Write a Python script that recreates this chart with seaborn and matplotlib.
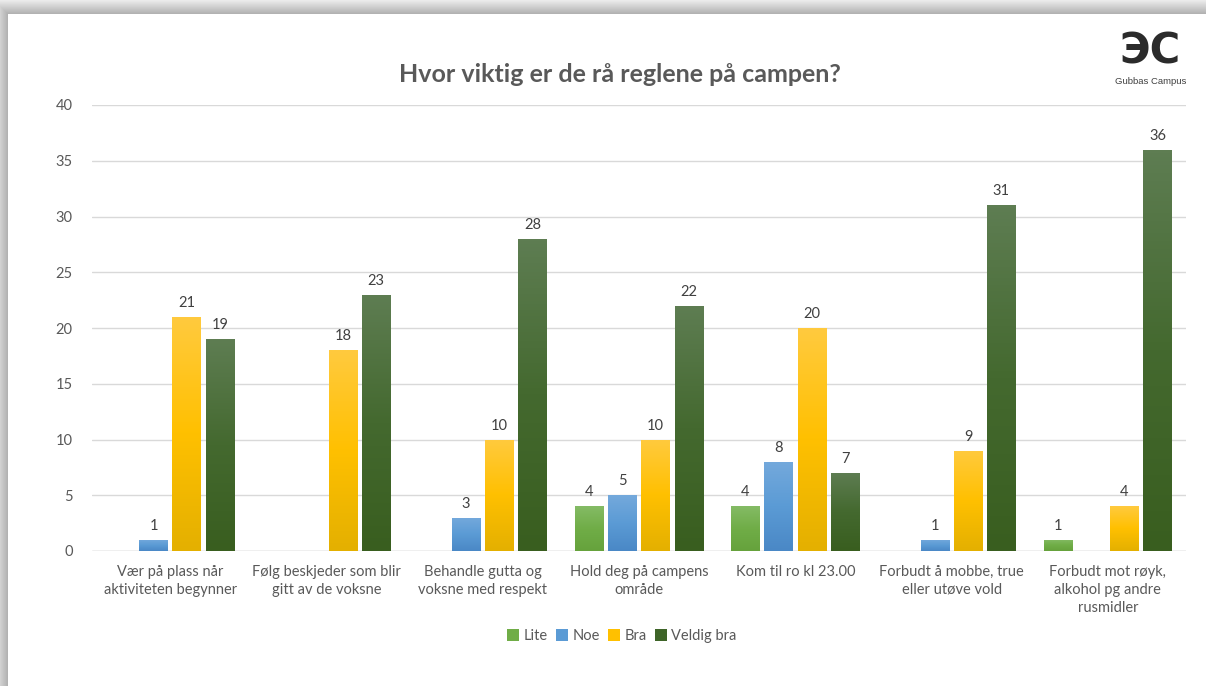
import matplotlib
matplotlib.use("Agg")
import matplotlib.pyplot as plt
import matplotlib.colors as mcolors
import seaborn as sns
import numpy as np
import pandas as pd

# ---------------------------------------------------------------
# data
categories = [
    "Vær på plass når\naktiviteten begynner",
    "Følg beskjeder som blir\ngitt av de voksne",
    "Behandle gutta og\nvoksne med respekt",
    "Hold deg på campens\nområde",
    "Kom til ro kl 23.00",
    "Forbudt å mobbe, true\neller utøve vold",
    "Forbudt mot røyk,\nalkohol pg andre\nrusmidler",
]
series = ["Lite", "Noe", "Bra", "Veldig bra"]
lite = [0, 0, 0, 4, 4, 0, 1]
noe = [1, 0, 3, 5, 8, 1, 0]
bra = [21, 18, 10, 10, 20, 9, 4]
veldig_bra = [19, 23, 28, 22, 7, 31, 36]
y_ticks = [0, 5, 10, 15, 20, 25, 30, 35, 40]

title = "Hvor viktig er de rå reglene på campen?"

# colours: legend colour + (top, middle, bottom) gradient stops
colors = {"Lite": "#70ad47", "Noe": "#5b9bd5", "Bra": "#ffc000", "Veldig bra": "#3e6428"}
grad = {
    "Lite": ("#84bb65", "#70ad47", "#66a23c"),
    "Noe": ("#74a9dc", "#5b9bd5", "#4a88c6"),
    "Bra": ("#ffca3e", "#ffc000", "#e4b000"),
    "Veldig bra": ("#5e7d52", "#44692f", "#395e1f"),
}

df = pd.DataFrame({
    "kategori": categories * 4,
    "serie": np.repeat(series, len(categories)),
    "antall": lite + noe + bra + veldig_bra,
})

W, H = 1206, 686
sns.set_theme(style="white")
plt.rcParams["font.family"] = ["Lato", "DejaVu Sans"]
text_grey = "#595959"

fig = plt.figure(figsize=(W / 100, H / 100), dpi=100)

# ramme med skygge oppe og til venstre
bg = fig.add_axes([0, 0, 1, 1], zorder=-10)
yy, xx = np.mgrid[0:H, 0:W]
dist = np.maximum(8 - xx, 14 - yy).astype(float)
shade = np.where(dist > 0, 0.68 + 0.24 * np.clip(dist / 14.0, 0, 1), 1.0)
bg.imshow(shade, cmap="gray", vmin=0, vmax=1, aspect="auto", extent=[0, W, H, 0])
bg.set_axis_off()

ax = fig.add_axes([92 / W, 1 - 551 / H, (1186 - 92) / W, (551 - 105) / H])
ax.patch.set_alpha(0)

sns.barplot(data=df, x="kategori", y="antall", hue="serie", hue_order=series,
            palette=colors, width=0.85, gap=0.14, saturation=1,
            edgecolor="none", ax=ax, legend=True)

ax.set_ylim(0, 40)
xlim = ax.get_xlim()

# gradient i stolpene
for cont, name in zip(ax.containers, series):
    cmap = mcolors.LinearSegmentedColormap.from_list(name, list(grad[name]))
    g = np.linspace(0, 1, 100).reshape(-1, 1)
    for p in cont.patches:
        h = p.get_height()
        if h <= 0:
            continue
        im = ax.imshow(g, cmap=cmap, aspect="auto", zorder=p.get_zorder() + 0.1,
                       extent=[p.get_x(), p.get_x() + p.get_width(), 0, h], origin="upper")
        im.set_clip_path(p)
    labels = [str(int(v)) if v > 0 else "" for v in cont.datavalues]
    ax.bar_label(cont, labels=labels, padding=5, fontsize=10.5, color="#404040")

ax.set_xlim(xlim)
ax.set_ylim(0, 40)
ax.set_yticks(y_ticks)
ax.grid(axis="y", color="#d9d9d9", linewidth=1)
ax.set_axisbelow(True)
for s in ["top", "right", "left", "bottom"]:
    ax.spines[s].set_visible(False)
ax.axhline(0, color="#d0d0d0", linewidth=1, zorder=0.5)
ax.tick_params(axis="y", length=0, pad=14, labelsize=10.5, labelcolor=text_grey)
ax.tick_params(axis="x", length=0, pad=10, labelsize=10.5, labelcolor=text_grey)
for t in ax.get_xticklabels():
    t.set_linespacing(1.35)
ax.set_xlabel("")
ax.set_ylabel("")

# legend nederst
handles, labs = ax.get_legend_handles_labels()
ax.get_legend().remove()
fig.legend(handles, labs, loc="center", bbox_to_anchor=(622 / W, 1 - 636 / H),
           ncol=4, frameon=False, fontsize=10.5, labelcolor=text_grey,
           handlelength=0.8, handleheight=0.8, handletextpad=0.3, columnspacing=0.6)

fig.text(620 / W, 1 - 75 / H, title, ha="center", va="center",
         fontsize=18, fontweight="bold", color=text_grey)

# logo
fig.text(1150 / W, 1 - 52 / H, "ЭC", ha="center", va="center", fontsize=30,
         fontweight="bold", color="#2b2b2b", family=["DejaVu Sans"])
fig.text(1151 / W, 1 - 82 / H, "Gubbas Campus", ha="center", va="center",
         fontsize=6.8, color="#404040", family=["Liberation Sans"])

fig.savefig("out.png", dpi=100)
